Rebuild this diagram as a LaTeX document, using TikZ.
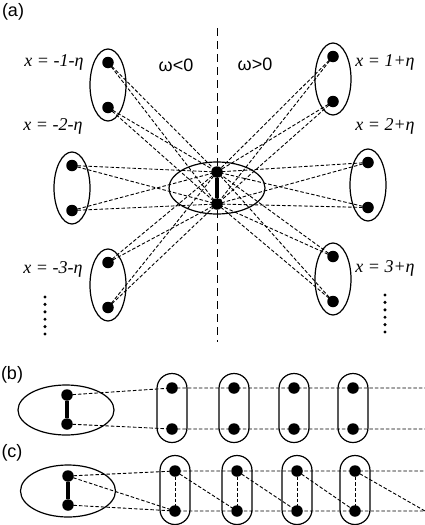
\documentclass[tikz,border=0pt]{standalone}
\usepackage{fontspec}
\setmainfont{Liberation Serif}
\newfontfamily\arialfont{Liberation Sans}
\usetikzlibrary{shapes.geometric}
\tikzset{
  dot/.style={circle,fill=black,inner sep=0pt,minimum size=11.5pt},
  site/.style={ellipse,draw,line width=1.2pt,inner sep=0pt,minimum width=36pt,minimum height=72pt},
  impurity/.style={ellipse,draw,line width=1.2pt,inner sep=0pt,minimum width=96pt,minimum height=52pt},
  cell/.style={draw,line width=1.2pt,rounded corners=15pt,inner sep=0pt,minimum width=30pt,minimum height=69pt},
  hop/.style={dash pattern=on 3.5pt off 2pt,line width=0.9pt},
  bond/.style={line width=3.5pt},
  axisline/.style={dash pattern=on 8pt off 5pt,line width=1pt},
  xlabel/.style={font=\fontsize{18}{20}\selectfont\itshape,inner sep=0pt},
  panel/.style={font=\fontsize{18}{20}\selectfont\arialfont,inner sep=0pt}
}
\begin{document}
\begin{tikzpicture}[x=1pt,y=-1pt]
\useasboundingbox (0,0) rectangle (425,525);
% (a) impurity with two levels, coupled to all sites
\node[panel] (pa) at (13,12) {(a)};
\coordinate (axtop) at (217,28);
\coordinate (axbot) at (217,342);
\draw[axisline] (axtop) -- (axbot);
\node[panel] (wneg) at (176,65) {ω<0};
\node[panel] (wpos) at (255,64) {ω>0};
\node[impurity] (imp) at (217,188) {};
\node[dot] (c1) at (217,172) {};
\node[dot] (c2) at (217,204) {};
\draw[bond] (c1) -- (c2);
\foreach \n/\x/\y in {l1/108/85,l2/72/188,l3/108/285,r1/333/79,r2/368/185,r3/333/279} {
  \node[site] (\n) at (\x,\y) {};
  \node[dot] (\n-t) at (\x,\y-22.5) {};
  \node[dot] (\n-b) at (\x,\y+22.5) {};
  \foreach \e in {t,b}
    \foreach \c in {c1,c2}
      \draw[hop] (\n-\e.center) -- (\c.center);
}
\node[xlabel] (xl1) at (54,62) {x = -1-η};
\node[xlabel] (xl2) at (53,126) {x = -2-η};
\node[xlabel] (xl3) at (53,269) {x = -3-η};
\node[xlabel] (xr1) at (385,62) {x = 1+η};
\node[xlabel] (xr2) at (385,126) {x = 2+η};
\node[xlabel] (xr3) at (385,268) {x = 3+η};
\foreach \k in {0,...,5} {
  \fill (45,297+7.4*\k) circle (1.7pt);
  \fill (385,295+7.4*\k) circle (1.7pt);
}
% (b) chain of sites
\node[panel] (pb) at (12,375) {(b)};
\node[impurity,minimum height=50pt] (bimp) at (66,410) {};
\node[dot] (b0t) at (67,395) {};
\node[dot] (b0b) at (67,424) {};
\draw[bond] (b0t) -- (b0b);
\foreach \i/\x in {1/172,2/234,3/294,4/353} {
  \node[cell] (b\i) at (\x,408) {};
  \node[dot] (b\i t) at (\x,388) {};
  \node[dot] (b\i b) at (\x,429) {};
}
\coordinate (bendt) at (425,388);
\coordinate (bendb) at (425,429);
\draw[hop] (b0t.center) -- (b1t.center) -- (b2t.center) -- (b3t.center) -- (b4t.center) -- (bendt);
\draw[hop] (b0b.center) -- (b1b.center) -- (b2b.center) -- (b3b.center) -- (b4b.center) -- (bendb);
% (c) chain with cross hopping
\node[panel] (pc) at (12,453) {(c)};
\node[impurity,minimum width=95pt] (cimp) at (68,491) {};
\node[dot] (c0t) at (68,476) {};
\node[dot] (c0b) at (68,505) {};
\draw[bond] (c0t) -- (c0b);
\foreach \i/\x in {1/175,2/237,3/297,4/355} {
  \node[cell] (cc\i) at (\x,490) {};
  \node[dot] (c\i t) at (\x,471) {};
  \node[dot] (c\i b) at (\x,511) {};
  \draw[hop] (c\i t.center) -- (c\i b.center);
}
\coordinate (cendt) at (425,471);
\coordinate (cendb) at (425,511);
\draw[hop] (c0t.center) -- (c1t.center) -- (c2t.center) -- (c3t.center) -- (c4t.center) -- (cendt);
\draw[hop] (c0b.center) -- (c1b.center) -- (c2b.center) -- (c3b.center) -- (c4b.center) -- (cendb);
\draw[hop] (c0t.center) -- (c1b.center);
\draw[hop] (c1t.center) -- (c2b.center);
\draw[hop] (c2t.center) -- (c3b.center);
\draw[hop] (c3t.center) -- (c4b.center);
\draw[hop] (c4t.center) -- (cendb);
\end{tikzpicture}
\end{document}
